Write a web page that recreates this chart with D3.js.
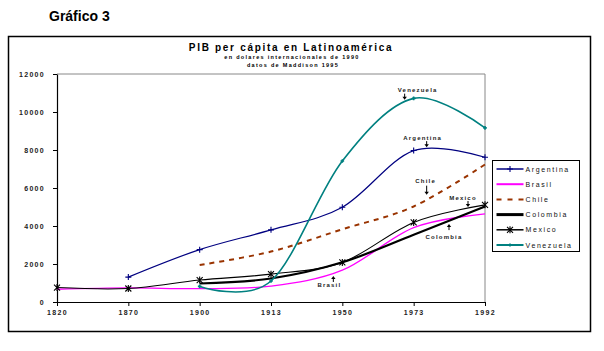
<!DOCTYPE html>
<html>
<head>
<meta charset="utf-8">
<script src="https://cdn.jsdelivr.net/npm/d3@7"></script>
<style>
  body { margin: 0; background: #fff; }
  svg { font-family: 'Liberation Sans', Arial, sans-serif; }
  .tick text { font-size: 7px; font-weight: bold; letter-spacing: 1.3px; fill: #222; }
</style>
</head>
<body>
<div id="chart"></div>
<script>
const years = ['1820', '1870', '1900', '1913', '1950', '1973', '1992'];
const argentina = [null, 1311, 2756, 3797, 4987, 7970, 7616];
const brasil = [670, 740, 704, 839, 1673, 3913, 4637];
const chile = [null, null, 1949, 2653, 3827, 5028, 7238];
const colombia = [null, null, 973, 1236, 2089, 3539, 5025];
const mexico = [760, 710, 1157, 1467, 2085, 4189, 5112];
const venezuela = [null, null, 821, 1104, 7424, 10717, 9163];
const yTicks = [0, 2000, 4000, 6000, 8000, 10000, 12000];

const width = 604;
const height = 351;
const margin = {top: 74, right: 119, bottom: 49, left: 57};

const svg = d3.select('#chart')
  .append('svg')
    .attr('width', width)
    .attr('height', height);

// heading outside the frame
svg.append('text')
  .attr('x', 49)
  .attr('y', 21)
  .attr('style', 'font-size:14px;font-weight:bold;')
  .text('Gráfico 3');

svg.append('rect')
  .attr('x', 8.5).attr('y', 36.5)
  .attr('width', 582).attr('height', 295)
  .attr('fill', 'none')
  .attr('stroke', '#000')
  .attr('stroke-width', 1.5);

svg.append('text')
  .attr('x', 291).attr('y', 51)
  .attr('text-anchor', 'middle')
  .attr('style', 'font-size:10px;font-weight:bold;letter-spacing:1.7px;')
  .text('PIB per cápita en Latinoamérica');
svg.append('text')
  .attr('x', 292).attr('y', 59)
  .attr('text-anchor', 'middle')
  .attr('style', 'font-size:5.5px;font-weight:bold;letter-spacing:1.3px;')
  .text('en dolares internacionales de 1990');
svg.append('text')
  .attr('x', 293).attr('y', 67)
  .attr('text-anchor', 'middle')
  .attr('style', 'font-size:5.5px;font-weight:bold;letter-spacing:1.3px;')
  .text('datos de Maddison 1995');

const x = d3.scalePoint()
  .domain(years)
  .range([margin.left, width - margin.right]);

const y = d3.scaleLinear()
  .domain([0, 12000])
  .range([height - margin.bottom, margin.top]);

// plot area border (grey top + right)
svg.append('path')
  .attr('d', `M${x('1820')},${y(12000)}H${x('1992')}V${y(0)}`)
  .attr('fill', 'none')
  .attr('stroke', '#888')
  .attr('stroke-width', 1);

svg.append('g')
  .attr('transform', `translate(${margin.left},0)`)
  .call(d3.axisLeft(y).tickValues(yTicks).tickFormat(d3.format('d')).tickSize(4).tickSizeOuter(0).tickPadding(8))
  .call(g => g.select('.domain').attr('stroke-width', 1.2));

svg.append('g')
  .attr('transform', `translate(0,${y(0)})`)
  .call(d3.axisBottom(x).tickSize(4).tickSizeOuter(0).tickPadding(4))
  .call(g => g.select('.domain').attr('stroke-width', 1.2));

const series = [
  {name: 'Argentina', values: argentina, color: '#000080', width: 1.2, marker: 'plus'},
  {name: 'Brasil', values: brasil, color: '#ff00ff', width: 1.3},
  {name: 'Chile', values: chile, color: '#993300', width: 2, dash: '5 5'},
  {name: 'Colombia', values: colombia, color: '#000', width: 2.2},
  {name: 'Mexico', values: mexico, color: '#000', width: 1.1, marker: 'star'},
  {name: 'Venezuela', values: venezuela, color: '#008080', width: 1.6, marker: 'small'}
];

const line = d3.line()
  .defined(d => d.v != null)
  .x(d => x(d.year))
  .y(d => y(d.v))
  .curve(d3.curveCatmullRom.alpha(0));

const markerPath = (type) => {
  if (type === 'plus') return 'M-3,0H3M0,-3V3';
  if (type === 'star') return 'M-3,-3L3,3M-3,3L3,-3M0,-3.5V3.5';
  if (type === 'small') return 'M-1.8,0H1.8M0,-1.8V1.8';
  return '';
};

series.forEach(s => {
  const pts = years.map((year, i) => ({year, v: s.values[i]}));
  svg.append('path')
    .datum(pts)
    .attr('d', line)
    .attr('fill', 'none')
    .attr('stroke', s.color)
    .attr('stroke-width', s.width)
    .attr('stroke-dasharray', s.dash || null);
  if (s.marker) {
    svg.append('g')
      .selectAll('path')
      .data(pts.filter(d => d.v != null))
      .join('path')
        .attr('transform', d => `translate(${x(d.year)},${y(d.v)})`)
        .attr('d', markerPath(s.marker))
        .attr('fill', 'none')
        .attr('stroke', s.color)
        .attr('stroke-width', s.marker === 'small' ? 1.6 : 1.1);
  }
});

// annotations: arrow tip anchored to a year and a value
const notes = [
  {label: 'Venezuela', year: '1973', dx: -9, v: 10650, dir: 'down', tx: 13, ty: -8},
  {label: 'Argentina', year: '1973', dx: 13, v: 8150, dir: 'down', tx: -4, ty: -7},
  {label: 'Chile', year: '1973', dx: 13, v: 5650, dir: 'down', tx: -1, ty: -12},
  {label: 'Mexico', year: '1992', dx: -17, v: 5000, dir: 'down', tx: -5, ty: -7},
  {label: 'Colombia', year: '1992', dx: -36, v: 4100, dir: 'up', tx: -5, ty: 15},
  {label: 'Brasil', year: '1950', dx: -9, v: 1370, dir: 'up', tx: -4, ty: 11}
];

notes.forEach(n => {
  const ax = x(n.year) + n.dx;
  const ay = y(n.v);
  const s = n.dir === 'down' ? -1 : 1;
  const len = n.label === 'Chile' ? 9 : 6;
  svg.append('line')
    .attr('x1', ax).attr('x2', ax)
    .attr('y1', ay + s * len).attr('y2', ay + s * 2)
    .attr('stroke', '#000')
    .attr('stroke-width', 1);
  svg.append('path')
    .attr('d', `M${ax},${ay}L${ax - 2.2},${ay + s * 3}L${ax + 2.2},${ay + s * 3}Z`)
    .attr('fill', '#000');
  svg.append('text')
    .attr('x', ax + n.tx)
    .attr('y', ay + n.ty)
    .attr('text-anchor', 'middle')
    .attr('style', 'font-size:6px;font-weight:bold;letter-spacing:1.2px;fill:#222;')
    .text(n.label);
});

// legend
const legend = svg.append('g').attr('transform', 'translate(492.5,160.5)');
legend.append('rect')
  .attr('width', 87).attr('height', 91)
  .attr('fill', '#fff')
  .attr('stroke', '#000')
  .attr('stroke-width', 1);

const item = legend.selectAll('g.item')
  .data(series)
  .join('g')
    .attr('class', 'item')
    .attr('transform', (d, i) => `translate(0,${8.5 + i * 15.2})`);

item.append('line')
  .attr('x1', 4).attr('x2', 31)
  .attr('stroke', d => d.color)
  .attr('stroke-width', d => d.name === 'Colombia' ? 3 : (d.name === 'Argentina' || d.name === 'Mexico') ? 1.5 : 2)
  .attr('stroke-dasharray', d => d.dash ? '5 6' : null);

item.filter(d => d.marker)
  .append('path')
  .attr('transform', 'translate(17.5,0)')
  .attr('d', d => markerPath(d.marker))
  .attr('fill', 'none')
  .attr('stroke', d => d.color)
  .attr('stroke-width', 1.1);

item.append('text')
  .attr('x', 33)
  .attr('y', 2.5)
  .attr('style', 'font-size:7px;letter-spacing:1.6px;fill:#111;')
  .text(d => d.name);
</script>
</body>
</html>
